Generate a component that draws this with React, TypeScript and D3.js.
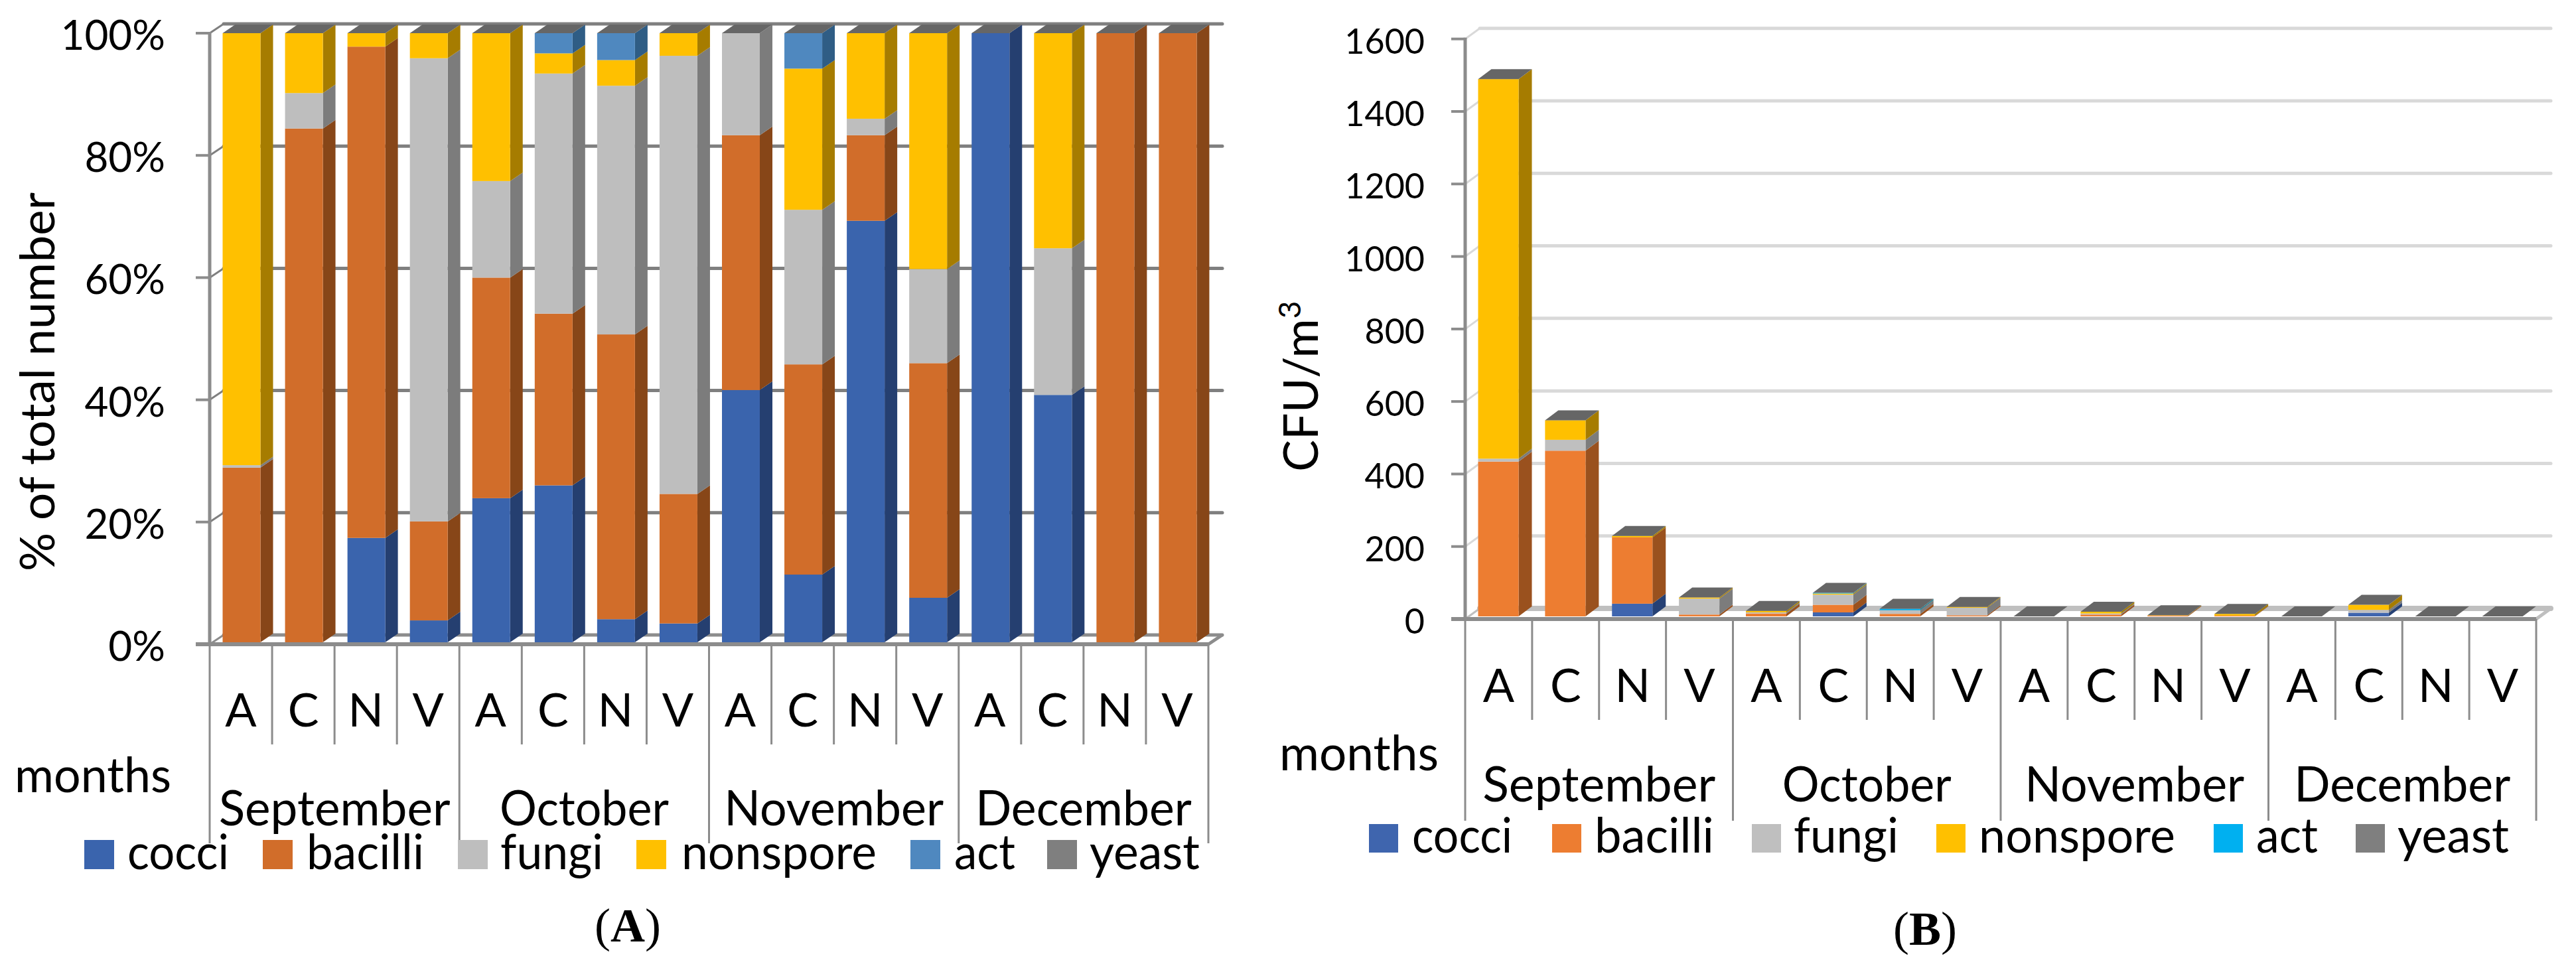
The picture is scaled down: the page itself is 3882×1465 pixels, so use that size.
import React from "react";
import * as d3 from "d3";

const seriesKeys = ["cocci", "bacilli", "fungi", "nonspore", "act", "yeast"];
const seriesLabels = ["cocci", "bacilli", "fungi", "nonspore", "act", "yeast"];
const sites = ["A", "C", "N", "V"];
const months = ["September", "October", "November", "December"];
const categories = months.flatMap((m) => sites.map((s) => `${m}-${s}`));

const pctCocci = [0, 0, 17.4, 3.9, 23.9, 26, 4.1, 3.4, 41.6, 11.4, 69.3, 7.6, 100, 40.8, 0, 0];
const pctBacilli = [28.9, 84.4, 80.4, 16.2, 36.1, 28.1, 46.6, 21.2, 41.7, 34.4, 14, 38.4, 0, 0, 100, 100];
const pctFungi = [0.4, 5.8, 0, 75.8, 15.8, 39.3, 40.7, 71.7, 16.7, 25.3, 2.7, 15.4, 0, 24, 0, 0];
const pctNonspore = [70.7, 9.8, 2.2, 4.1, 24.2, 3.3, 4.2, 3.7, 0, 23.1, 14, 38.6, 0, 35.2, 0, 0];
const pctAct = [0, 0, 0, 0, 0, 3.3, 4.4, 0, 0, 5.8, 0, 0, 0, 0, 0, 0];
const pctYeast = [0, 0, 0, 0, 0, 0, 0, 0, 0, 0, 0, 0, 0, 0, 0, 0];

const cfuCocci = [0, 0, 35, 0, 0, 11, 0, 0, 0, 0, 0, 0, 0, 10, 0, 0];
const cfuBacilli = [427, 457, 183, 5, 8, 21, 7, 3, 0, 5, 2, 2, 0, 0, 0, 0];
const cfuFungi = [8, 30, 0, 44, 3, 28, 10, 21, 0, 3, 0, 0, 0, 8, 0, 0];
const cfuNonspore = [1047, 54, 4, 3, 4, 3, 0, 2, 0, 5, 1, 5, 0, 14, 0, 0];
const cfuAct = [0, 0, 0, 0, 0, 2, 4, 0, 0, 0, 0, 0, 0, 0, 0, 0];
const cfuYeast = [0, 0, 0, 0, 0, 0, 0, 0, 0, 0, 0, 0, 0, 0, 0, 0];

const pctTicks = [0, 20, 40, 60, 80, 100];
const cfuTicks = [0, 200, 400, 600, 800, 1000, 1200, 1400, 1600];

const coloursA = ["#3A64AD", "#D16D2A", "#BEBEBE", "#FFC000", "#4F88BF", "#7F7F7F"];
const sidesA = ["#253F70", "#874618", "#7C7C7C", "#A67C00", "#2F5D85", "#555555"];
const coloursB = ["#3F65AE", "#ED7D31", "#BFBFBF", "#FFC000", "#00B0F0", "#7F7F7F"];
const sidesB = ["#264175", "#9A511E", "#7C7C7C", "#A67C00", "#2F7F8F", "#555555"];

const FONT = "Lato, 'Open Sans', sans-serif";

const toRows = (cols: number[][]) =>
  categories.map((_, i) => Object.fromEntries(seriesKeys.map((k, j) => [k, cols[j][i]])));

type Cfg = {
  rows: any[]; ticks: number[]; fmt: (v: number) => string; domainMax: number;
  x0: number; x1: number; y0: number; yT: number; baseGap: number;
  wallDx: number; wallDy: number; barOff: number; barW: number; barDx: number; barDy: number;
  colours: string[]; sides: string[]; gridColor: string; gridW: number; floorColor: string; floorW: number;
  tickLabelEnd: number; tickLabelDy: number; tickFont: number;
  siteBase: number; siteFont: number; shortEnd: number; longEnd: number;
  monthBase: number; monthFont: number; monthW: number[];
  monthsX: number; monthsW: number; monthsBase: number;
  legendY: number; legendH: number; legendSwatchW: number; legendBase: number; legendFont: number;
  legendX: number[]; legendTextX: number[]; legendTextW: number[];
};

function Panel({ c }: { c: Cfg }) {
  const y = d3.scaleLinear().domain([0, c.domainMax]).range([c.y0, c.yT]);
  const x = d3.scaleBand<number>().domain(d3.range(categories.length)).range([c.x0, c.x1]);
  const band = x.bandwidth();
  const stacked = d3.stack<any>().keys(seriesKeys)(c.rows);
  const base = c.y0 - c.baseGap;
  const py = (v: number) => Math.min(base, y(v) - (c.domainMax === 100 ? 0 : c.baseGap));
  const axisColor = "#8C8C8C";
  return (
    <g>
      {c.ticks.map((t) => (
        <line key={t} x1={c.x0 + c.wallDx} x2={c.x1 + c.wallDx} y1={y(t) - c.wallDy} y2={y(t) - c.wallDy}
          stroke={t === 0 ? c.floorColor : c.gridColor} strokeWidth={t === 0 ? c.floorW : c.gridW} strokeLinecap="round" />
      ))}
      {c.ticks.map((t) => (
        <line key={t} x1={c.x0} x2={c.x0 + c.wallDx} y1={y(t)} y2={y(t) - c.wallDy}
          stroke={t === 0 ? c.floorColor : c.gridColor} strokeWidth={3} />
      ))}
      <line x1={c.x1} x2={c.x1 + c.wallDx} y1={c.y0} y2={c.y0 - c.wallDy} stroke={c.floorColor} strokeWidth={5} />
      {categories.map((_, i) => {
        const bx = (x(i) as number) + c.barOff;
        const topV = stacked[stacked.length - 1][i][1];
        const ty = py(topV);
        return (
          <g key={i}>
            {stacked.map((s, j) => {
              const a = py(s[i][0]);
              const b = py(s[i][1]);
              if (a - b <= 0) return null;
              return (
                <g key={j}>
                  <polygon points={`${bx + c.barW},${a} ${bx + c.barW + c.barDx},${a - c.barDy} ${bx + c.barW + c.barDx},${b - c.barDy} ${bx + c.barW},${b}`} fill={c.sides[j]} />
                  <rect x={bx} y={b} width={c.barW} height={a - b} fill={c.colours[j]} />
                </g>
              );
            })}
            <polygon points={`${bx},${ty} ${bx + c.barW},${ty} ${bx + c.barW + c.barDx},${ty - c.barDy} ${bx + c.barDx},${ty - c.barDy}`} fill="#666666" />
          </g>
        );
      })}
      <line x1={c.x0} x2={c.x0} y1={c.yT - 2} y2={c.y0 + 3} stroke={axisColor} strokeWidth={5} />
      {c.ticks.map((t) => (
        <g key={t}>
          <line x1={c.x0 - 21} x2={c.x0} y1={y(t)} y2={y(t)} stroke={axisColor} strokeWidth={4} />
          <text x={c.tickLabelEnd} y={y(t) + c.tickLabelDy} textAnchor="end" fontSize={c.tickFont} fontFamily={FONT} fill="#000">{c.fmt(t)}</text>
        </g>
      ))}
      <line x1={c.x0 - 21} x2={c.x1} y1={c.y0} y2={c.y0} stroke={axisColor} strokeWidth={6} />
      {categories.map((_, i) => {
        const isMonth = i % 4 === 0;
        return (
          <line key={i} x1={x(i) as number} x2={x(i) as number} y1={c.y0} y2={isMonth ? c.longEnd : c.shortEnd} stroke={axisColor} strokeWidth={3} />
        );
      })}
      <line x1={c.x1} x2={c.x1} y1={c.y0} y2={c.longEnd} stroke={axisColor} strokeWidth={3} />
      {categories.map((cat, i) => (
        <text key={cat} x={(x(i) as number) + band / 2} y={c.siteBase} textAnchor="middle" fontSize={c.siteFont} fontFamily={FONT} fill="#000">{sites[i % 4]}</text>
      ))}
      {months.map((m, i) => (
        <text key={m} x={(x(i * 4) as number) + band * 2} y={c.monthBase} textAnchor="middle" fontSize={c.monthFont} fontFamily={FONT} fill="#000"
          textLength={c.monthW[i]} lengthAdjust="spacingAndGlyphs">{m}</text>
      ))}
      <text x={c.monthsX} y={c.monthsBase} fontSize={c.monthFont} fontFamily={FONT} fill="#000" textLength={c.monthsW} lengthAdjust="spacingAndGlyphs">months</text>
      {seriesLabels.map((l, i) => (
        <g key={l}>
          <rect x={c.legendX[i]} y={c.legendY} width={c.legendSwatchW} height={c.legendH} fill={c.colours[i]} />
          <text x={c.legendTextX[i]} y={c.legendBase} fontSize={c.legendFont} fontFamily={FONT} fill="#000" textLength={c.legendTextW[i]} lengthAdjust="spacingAndGlyphs">{l}</text>
        </g>
      ))}
    </g>
  );
}

const cfgA: Cfg = {
  rows: toRows([pctCocci, pctBacilli, pctFungi, pctNonspore, pctAct, pctYeast]),
  ticks: pctTicks, fmt: (v) => `${v}%`, domainMax: 100,
  x0: 316, x1: 1821, y0: 971, yT: 50, baseGap: 3,
  wallDx: 21, wallDy: 14, barOff: 19.5, barW: 57, barDx: 19, barDy: 13,
  colours: coloursA, sides: sidesA, gridColor: "#7F7F7F", gridW: 5, floorColor: "#8C8C8C", floorW: 5,
  tickLabelEnd: 249, tickLabelDy: 25, tickFont: 62,
  siteBase: 1095, siteFont: 70, shortEnd: 1122, longEnd: 1271,
  monthBase: 1244, monthFont: 73, monthW: [349, 255, 331, 326],
  monthsX: 22, monthsW: 236, monthsBase: 1194,
  legendY: 1266, legendH: 44, legendSwatchW: 45, legendBase: 1310, legendFont: 74,
  legendX: [127, 396, 690, 959, 1372, 1578],
  legendTextX: [192, 462, 754, 1027, 1438, 1642],
  legendTextW: [153, 177, 155, 294, 92, 166],
};

const cfgB: Cfg = {
  rows: toRows([cfuCocci, cfuBacilli, cfuFungi, cfuNonspore, cfuAct, cfuYeast]),
  ticks: cfuTicks, fmt: (v) => `${v}`, domainMax: 1600,
  x0: 2208, x1: 3822, y0: 933, yT: 58.7, baseGap: 4,
  wallDx: 22, wallDy: 16, barOff: 19.5, barW: 61, barDx: 20, barDy: 15,
  colours: coloursB, sides: sidesB, gridColor: "#D9D9D9", gridW: 5, floorColor: "#BFBFBF", floorW: 8,
  tickLabelEnd: 2147, tickLabelDy: 22, tickFont: 52,
  siteBase: 1058, siteFont: 70, shortEnd: 1085, longEnd: 1237,
  monthBase: 1208, monthFont: 73, monthW: [351, 255, 331, 326],
  monthsX: 1928, monthsW: 240, monthsBase: 1161,
  legendY: 1242, legendH: 43, legendSwatchW: 44, legendBase: 1285, legendFont: 74,
  legendX: [2063, 2339, 2640, 2918, 3336, 3550],
  legendTextX: [2128, 2403, 2703, 2982, 3400, 3613],
  legendTextW: [151, 180, 158, 296, 93, 168],
};

export default function App() {
  return (
    <svg width={3882} height={1465} viewBox="0 0 3882 1465" style={{ position: "absolute", left: 0, top: 0, background: "#fff" }}>
      <Panel c={cfgA} />
      <Panel c={cfgB} />
      <text transform="translate(82,861) rotate(-90)" fontSize={72} fontFamily={FONT} fill="#000" textLength={571} lengthAdjust="spacingAndGlyphs">% of total number</text>
      <text transform="translate(1986,711) rotate(-90)" fontSize={72} fontFamily={FONT} fill="#000">
        CFU/m<tspan dy={-26} fontSize={46}>3</tspan>
      </text>
      <text x={946} y={1419} textAnchor="middle" fontFamily="'Liberation Serif', serif" fontSize={72} fill="#000">(<tspan fontWeight="bold">A</tspan>)</text>
      <text x={2901} y={1424} textAnchor="middle" fontFamily="'Liberation Serif', serif" fontSize={72} fill="#000">(<tspan fontWeight="bold">B</tspan>)</text>
    </svg>
  );
}
